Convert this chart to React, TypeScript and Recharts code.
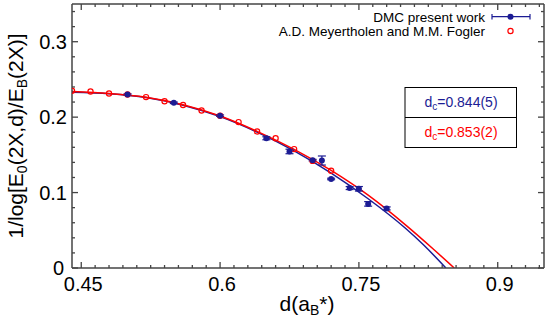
import { ComposedChart, Line, Scatter, ErrorBar, XAxis, YAxis } from 'recharts';

// DMC present work (filled blue, with error bars)
const dmcX = [0.5, 0.55, 0.6, 0.65, 0.675, 0.7, 0.71, 0.72, 0.74, 0.75, 0.76, 0.78];
const dmcY = [0.23, 0.219, 0.202, 0.172, 0.1545, 0.143, 0.1425, 0.118, 0.106, 0.105, 0.085, 0.079];
const dmcErr = [0.001, 0.001, 0.001, 0.002, 0.003, 0.001, 0.006, 0.001, 0.002, 0.003, 0.003, 0.002];

// A.D. Meyertholen and M.M. Fogler (open red circles)
const foglerX = [0.44, 0.46, 0.48, 0.5, 0.52, 0.54, 0.56, 0.58, 0.6, 0.62, 0.64, 0.66, 0.68, 0.7, 0.72];
const foglerY = [0.235, 0.234, 0.2314, 0.23, 0.2266, 0.221, 0.216, 0.2088, 0.2018, 0.1934, 0.181, 0.172, 0.1576, 0.142, 0.129];

// fitted curves
const blueFitX = [0.44, 0.48, 0.52, 0.56, 0.6, 0.64, 0.68, 0.72, 0.76, 0.8, 0.82, 0.844];
const blueFitY = [0.233, 0.231, 0.226, 0.2158, 0.2008, 0.1802, 0.1553, 0.1258, 0.0918, 0.053, 0.0305, 0];
const redFitX = [0.44, 0.48, 0.52, 0.56, 0.6, 0.64, 0.68, 0.72, 0.76, 0.8, 0.83, 0.853];
const redFitY = [0.234, 0.2315, 0.2265, 0.2165, 0.2015, 0.1812, 0.1573, 0.1293, 0.0965, 0.0575, 0.0255, 0];

const xTicks = [0.45, 0.465, 0.48, 0.495, 0.51, 0.525, 0.54, 0.555, 0.57, 0.585, 0.6, 0.615, 0.63, 0.645, 0.66, 0.675, 0.69,
    0.705, 0.72, 0.735, 0.75, 0.765, 0.78, 0.795, 0.81, 0.825, 0.84, 0.855, 0.87, 0.885, 0.9, 0.915, 0.93, 0.945];
const xMajor = [0.45, 0.6, 0.75, 0.9];
const yTicks = [0, 0.02, 0.04, 0.06, 0.08, 0.1, 0.12, 0.14, 0.16, 0.18, 0.2, 0.22, 0.24, 0.26, 0.28, 0.3, 0.32, 0.34];
const yMajor = [0, 0.1, 0.2, 0.3];
const xLabels = ['0.45', '0.6', '0.75', '0.9'];
const yLabels = ['0', '0.1', '0.2', '0.3'];

const BLUE = '#1c1c94';
const RED = '#ff0000';
const AXIS = '#444';
const FONT = '"Liberation Sans", Arial, Helvetica, sans-serif';

const dmcData = dmcX.map((x, i) => ({ x, y: dmcY[i], e: dmcErr[i] }));
const foglerData = foglerX.map((x, i) => ({ x, y: foglerY[i] }));
const blueFit = blueFitX.map((x, i) => ({ x, y: blueFitY[i] }));
const redFit = redFitX.map((x, i) => ({ x, y: redFitY[i] }));

const majorIdx = (list: number[], v: number) => list.findIndex((m) => Math.abs(m - v) < 1e-6);

function makeTick(side: 'bottom' | 'top' | 'left' | 'right') {
    return (props: any) => {
        const { x, y, payload } = props;
        const v = payload.value;
        const idx = majorIdx(side === 'bottom' || side === 'top' ? xMajor : yMajor, v);
        const len = idx >= 0 ? 6 : 3;
        let line;
        if (side === 'bottom') line = <line x1={x} x2={x} y1={y} y2={y - len} stroke={AXIS} strokeWidth={1.3} />;
        else if (side === 'top') line = <line x1={x} x2={x} y1={y} y2={y + len} stroke={AXIS} strokeWidth={1.3} />;
        else if (side === 'left') line = <line x1={x} x2={x + len} y1={y} y2={y} stroke={AXIS} strokeWidth={1.3} />;
        else line = <line x1={x} x2={x - len} y1={y} y2={y} stroke={AXIS} strokeWidth={1.3} />;
        return (
            <g>
                {line}
                {side === 'bottom' && idx >= 0 && (
                    <text x={x + 2} y={y + 23} textAnchor="middle" fontSize={20} fontFamily={FONT} fill="#000">
                        {xLabels[idx]}
                    </text>
                )}
                {side === 'left' && idx >= 0 && (
                    <text x={x - 5 - (v === 0 ? 3 : 0)} y={y + 7} textAnchor="end" fontSize={20} fontFamily={FONT} fill="#000">
                        {yLabels[idx]}
                    </text>
                )}
            </g>
        );
    };
}

const blueDot = (p: any) => <circle cx={p.cx} cy={p.cy} r={3} fill={BLUE} />;
const redDot = (p: any) => <circle cx={p.cx} cy={p.cy} r={2.6} fill="none" stroke={RED} strokeWidth={1.2} />;

const axisCommon = {
    type: 'number' as const,
    interval: 0 as const,
    allowDataOverflow: true,
    tickSize: 0,
    tickMargin: 0,
    tickLine: false,
    axisLine: { stroke: AXIS, strokeWidth: 1.5 },
};

export default function App() {
    return (
        <div style={{ position: 'absolute', left: 0, top: 0, width: 550, height: 321, background: '#fff' }}>
            <ComposedChart width={550} height={321} margin={{ top: 3, right: 5, left: 71, bottom: 52 }}>
                <XAxis {...axisCommon} dataKey="x" domain={[0.44, 0.95]} ticks={xTicks} height={1} tick={makeTick('bottom')} />
                <XAxis {...axisCommon} xAxisId="top" orientation="top" dataKey="x" domain={[0.44, 0.95]} ticks={xTicks} height={1} tick={makeTick('top')} />
                <YAxis {...axisCommon} dataKey="y" domain={[0, 0.35]} ticks={yTicks} width={1} tick={makeTick('left')} />
                <YAxis {...axisCommon} yAxisId="right" orientation="right" domain={[0, 0.35]} ticks={yTicks} width={1} tick={makeTick('right')} />
                <Line data={blueFit} dataKey="y" type="monotone" stroke={BLUE} strokeWidth={1.5} dot={false} isAnimationActive={false} />
                <Line data={redFit} dataKey="y" type="monotone" stroke={RED} strokeWidth={1.5} dot={false} isAnimationActive={false} />
                <Scatter data={foglerData} dataKey="y" shape={redDot} isAnimationActive={false} />
                <Scatter data={dmcData} dataKey="y" shape={blueDot} isAnimationActive={false}>
                    <ErrorBar dataKey="e" direction="y" width={4} stroke={BLUE} strokeWidth={1.2} />
                </Scatter>
            </ComposedChart>
            <svg width={550} height={321} style={{ position: 'absolute', left: 0, top: 0, pointerEvents: 'none' }}>
                {/* axis titles */}
                <text transform="translate(23,136) rotate(-90)" textAnchor="middle" fontSize={21} fontFamily={FONT} fill="#000">
                    1/log[E<tspan dy={4} fontSize={14}>0</tspan>
                    <tspan dy={-4}>(2X,d)/E</tspan>
                    <tspan dy={4} fontSize={14}>B</tspan>
                    <tspan dy={-4}>(2X)]</tspan>
                </text>
                <text x={307} y={311} textAnchor="middle" fontSize={21} fontFamily={FONT} fill="#000">
                    d(a<tspan dy={4} fontSize={14}>B</tspan>
                    <tspan dy={-4}>*)</tspan>
                </text>
                {/* legend */}
                <text x={485} y={21.5} textAnchor="end" fontSize={13.5} fontFamily={FONT} fill="#000">DMC present work</text>
                <text x={485} y={36} textAnchor="end" fontSize={13.5} fontFamily={FONT} fill="#000">A.D. Meyertholen and M.M. Fogler</text>
                <line x1={492} x2={530} y1={16.7} y2={16.7} stroke={BLUE} strokeWidth={1.2} />
                <line x1={492} x2={492} y1={14} y2={19.5} stroke={BLUE} strokeWidth={1.2} />
                <line x1={530} x2={530} y1={14} y2={19.5} stroke={BLUE} strokeWidth={1.2} />
                <circle cx={510.5} cy={16.7} r={3} fill={BLUE} />
                <circle cx={510.5} cy={31} r={2.6} fill="none" stroke={RED} strokeWidth={1.2} />
                {/* d_c box */}
                <rect x={405} y={87.5} width={111.5} height={60} fill="#fff" stroke="#000" strokeWidth={1} />
                <line x1={405} x2={516.5} y1={117.5} y2={117.5} stroke="#000" strokeWidth={1} />
                <text x={461} y={107} textAnchor="middle" fontSize={14} fontFamily={FONT} fill={BLUE}>
                    d<tspan dy={3} fontSize={10}>c</tspan>
                    <tspan dy={-3}>=0.844(5)</tspan>
                </text>
                <text x={461} y={137} textAnchor="middle" fontSize={14} fontFamily={FONT} fill={RED}>
                    d<tspan dy={3} fontSize={10}>c</tspan>
                    <tspan dy={-3}>=0.853(2)</tspan>
                </text>
            </svg>
        </div>
    );
}
